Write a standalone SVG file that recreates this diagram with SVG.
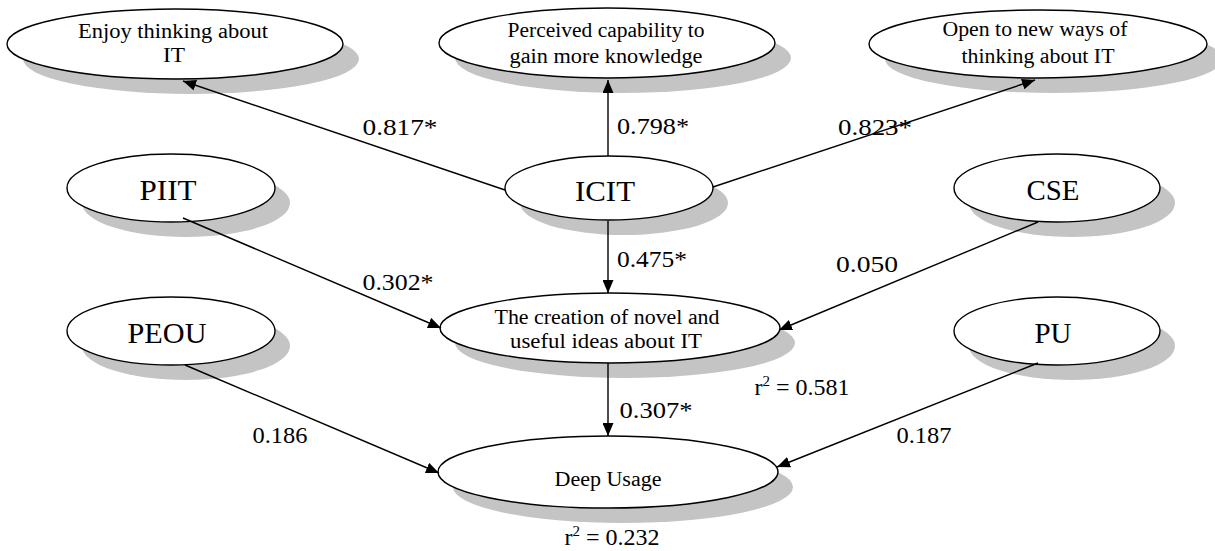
<svg xmlns="http://www.w3.org/2000/svg" width="1215" height="551" viewBox="0 0 1215 551">
<style>
.sh{fill:#c4c4c4;stroke:none}
.el{fill:#fff;stroke:#000;stroke-width:1.4}
.t{font-family:"Liberation Serif","Times New Roman",serif;fill:#000;text-anchor:middle}
.s{font-size:20px}
.b{font-size:29px}
.l{font-size:24px}
.c{stroke:#000;stroke-width:1.4;fill:none;marker-end:url(#ah)}
</style>
<defs>
<marker id="ah" markerUnits="userSpaceOnUse" markerWidth="13" markerHeight="11" refX="13" refY="5.5" orient="auto">
<path d="M0,0 L13,5.5 L0,11 z" fill="#000"/>
</marker>
</defs>
<rect width="1215" height="551" fill="#fff"/>
<g id="enjoy">
<ellipse class="sh" cx="191" cy="59" rx="168" ry="35"/>
<ellipse class="el" cx="175" cy="44" rx="168" ry="35"/>
<text class="t s" x="173" y="38" textLength="190" lengthAdjust="spacingAndGlyphs">Enjoy thinking about</text>
<text class="t s" x="174" y="62" textLength="22" lengthAdjust="spacingAndGlyphs">IT</text>
</g>
<g id="perceived">
<ellipse class="sh" cx="623" cy="58" rx="168" ry="35"/>
<ellipse class="el" cx="607" cy="43" rx="168" ry="35"/>
<text class="t s" x="606" y="37" textLength="197" lengthAdjust="spacingAndGlyphs">Perceived capability to</text>
<text class="t s" x="606" y="63" textLength="193" lengthAdjust="spacingAndGlyphs">gain more knowledge</text>
</g>
<g id="open">
<ellipse class="sh" cx="1054" cy="59" rx="169" ry="34"/>
<ellipse class="el" cx="1038" cy="44" rx="169" ry="34"/>
<text class="t s" x="1035" y="36" textLength="185" lengthAdjust="spacingAndGlyphs">Open to new ways of</text>
<text class="t s" x="1038" y="63" textLength="153" lengthAdjust="spacingAndGlyphs">thinking about IT</text>
</g>
<g id="icit">
<ellipse class="sh" cx="624" cy="203" rx="104" ry="32"/>
<ellipse class="el" cx="609" cy="188" rx="104" ry="32"/>
<text class="t b" x="605" y="201" textLength="60" lengthAdjust="spacingAndGlyphs">ICIT</text>
</g>
<g id="piit">
<ellipse class="sh" cx="186" cy="203" rx="104" ry="34"/>
<ellipse class="el" cx="171" cy="188" rx="104" ry="34"/>
<text class="t b" x="168" y="200" textLength="57" lengthAdjust="spacingAndGlyphs">PIIT</text>
</g>
<g id="cse">
<ellipse class="sh" cx="1072" cy="203" rx="103" ry="34"/>
<ellipse class="el" cx="1057" cy="188" rx="103" ry="34"/>
<text class="t b" x="1053" y="200" textLength="53" lengthAdjust="spacingAndGlyphs">CSE</text>
</g>
<g id="creation">
<ellipse class="sh" cx="625" cy="343" rx="170" ry="35"/>
<ellipse class="el" cx="610" cy="328" rx="170" ry="35"/>
<text class="t s" x="607" y="324" textLength="225" lengthAdjust="spacingAndGlyphs">The creation of novel and</text>
<text class="t s" x="606" y="348" textLength="192" lengthAdjust="spacingAndGlyphs">useful ideas about IT</text>
</g>
<g id="peou">
<ellipse class="sh" cx="186" cy="346" rx="104" ry="34"/>
<ellipse class="el" cx="171" cy="331" rx="104" ry="34"/>
<text class="t b" x="167" y="343" textLength="79" lengthAdjust="spacingAndGlyphs">PEOU</text>
</g>
<g id="pu">
<ellipse class="sh" cx="1072" cy="346" rx="103" ry="34"/>
<ellipse class="el" cx="1057" cy="331" rx="103" ry="34"/>
<text class="t b" x="1053" y="343" textLength="37" lengthAdjust="spacingAndGlyphs">PU</text>
</g>
<g id="deep">
<ellipse class="sh" cx="623" cy="487" rx="170" ry="36"/>
<ellipse class="el" cx="608" cy="472" rx="170" ry="36"/>
<text class="t s" x="608" y="486" textLength="107" lengthAdjust="spacingAndGlyphs">Deep Usage</text>
</g>
<g id="connectors">
<line class="c" x1="505" y1="190" x2="183" y2="81"/>
<line class="c" x1="608" y1="156" x2="608" y2="80"/>
<line class="c" x1="713" y1="187" x2="1035" y2="80"/>
<line class="c" x1="608" y1="221" x2="608" y2="293"/>
<line class="c" x1="183" y1="218" x2="441" y2="328"/>
<line class="c" x1="1038" y1="222" x2="779" y2="330"/>
<line class="c" x1="608" y1="363" x2="608" y2="436"/>
<line class="c" x1="185" y1="365" x2="439" y2="473"/>
<line class="c" x1="1038" y1="363" x2="777" y2="467"/>
<text class="t l" x="400" y="135" textLength="75" lengthAdjust="spacingAndGlyphs">0.817*</text>
<text class="t l" x="653" y="134" textLength="72" lengthAdjust="spacingAndGlyphs">0.798*</text>
<text class="t l" x="875" y="135" textLength="74" lengthAdjust="spacingAndGlyphs">0.823*</text>
<text class="t l" x="652" y="267" textLength="70" lengthAdjust="spacingAndGlyphs">0.475*</text>
<text class="t l" x="398" y="290" textLength="71" lengthAdjust="spacingAndGlyphs">0.302*</text>
<text class="t l" x="867" y="272" textLength="62" lengthAdjust="spacingAndGlyphs">0.050</text>
<text class="t l" x="656" y="418" textLength="73" lengthAdjust="spacingAndGlyphs">0.307*</text>
<text class="t l" x="280" y="443" textLength="55" lengthAdjust="spacingAndGlyphs">0.186</text>
<text class="t l" x="924" y="443" textLength="55" lengthAdjust="spacingAndGlyphs">0.187</text>
<text class="t l" x="802" y="395">r<tspan font-size="15" dy="-9">2</tspan><tspan dy="9"> = 0.581</tspan></text>
<text class="t l" x="612" y="545">r<tspan font-size="15" dy="-9">2</tspan><tspan dy="9"> = 0.232</tspan></text>
</g>
</svg>
